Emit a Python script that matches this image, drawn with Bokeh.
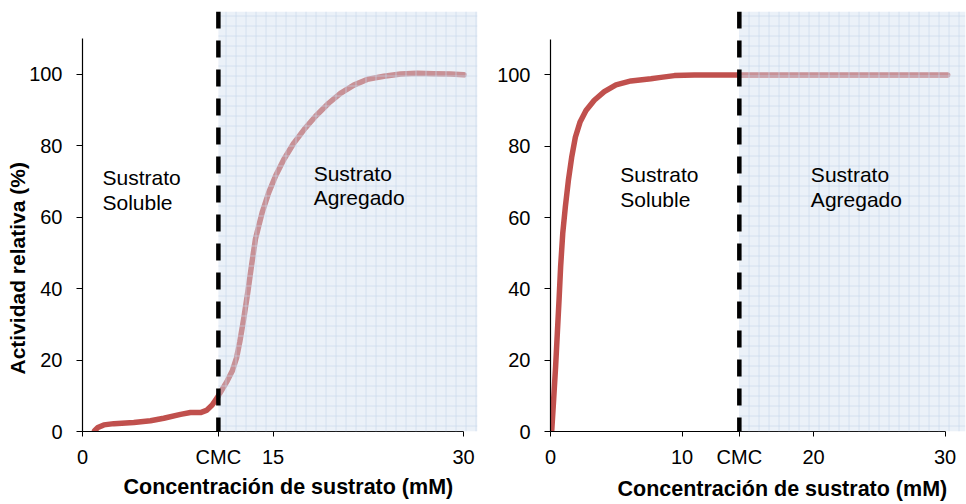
from bokeh.core.properties import value
from bokeh.embed import file_html
from bokeh.layouts import row
from bokeh.models import BoxAnnotation, ColumnDataSource, FixedTicker, Range1d, Span, Title
from bokeh.plotting import figure
from bokeh.resources import INLINE

# ---- data -------------------------------------------------------------
# left panel: activity vs substrate concentration (sigmoidal, CMC ~10.7 mM)
left_x = [0.95, 1.21, 1.68, 2.47, 4.04, 5.35, 6.40, 7.72, 8.50, 9.29, 9.76, 10.21,
          10.60, 11.0, 11.39, 11.79, 12.13, 12.39, 12.70, 13.02, 13.31, 13.62,
          14.15, 14.67, 15.20, 15.85, 16.64, 17.43, 18.35, 19.40, 20.31, 21.36,
          22.41, 23.73, 25.04, 26.35, 27.66, 28.98, 30.03]
left_y = [0.2, 1.1, 1.85, 2.2, 2.5, 3.0, 3.7, 4.8, 5.3, 5.3, 5.9, 7.4,
          9.4, 11.8, 14.1, 16.9, 20.6, 25.2, 31.7, 39.1, 46.5, 53.9,
          61.3, 66.9, 71.5, 76.1, 80.7, 84.4, 88.2, 91.9, 94.6, 96.9,
          98.5, 99.4, 100.0, 100.2, 100.1, 100.0, 99.8]
left_cmc = 10.7

# right panel: hyperbolic saturation, CMC ~14.4 mM
right_x = [0.09, 0.24, 0.39, 0.52, 0.65, 0.77, 0.93, 1.13, 1.36, 1.61, 1.89, 2.24,
           2.70, 3.33, 4.09, 4.98, 6.12, 7.64, 8.40, 9.42, 10.94, 14.36, 30.2]
right_y = [0.0, 9.0, 18.3, 27.6, 36.9, 46.2, 55.5, 63.0, 70.4, 76.9, 82.5, 86.7,
           90.0, 92.9, 95.3, 97.2, 98.3, 98.9, 99.3, 99.8, 100.0, 100.0, 100.0]
right_cmc = 14.36

left_xticks = [0, left_cmc, 15, 30]
right_xticks = [0, 10, right_cmc, 20, 30]
y_ticks = [0, 20, 40, 60, 80, 100]

x_title = "Concentración de sustrato (mM)"
y_title = "Actividad relativa (%)"
region_labels = [["Sustrato", "Soluble"], ["Sustrato", "Agregado"]]

FONT = "Liberation Sans"
RED = "#c0504d"


def make_panel(xs, ys, cmc, xticks, x_end, y_end, borders, x_bound_start,
               text_x, text_y):
    left_b, right_b, top_b, bottom_b = borders
    p = figure(width=483, height=504, output_backend="svg", toolbar_location=None,
               x_range=Range1d(0, x_end), y_range=Range1d(0, y_end),
               min_border_left=left_b, min_border_right=right_b,
               min_border_top=top_b, min_border_bottom=bottom_b)
    p.outline_line_color = None
    p.grid.visible = False
    p.background_fill_color = "white"
    p.border_fill_color = "white"

    for ax in (p.xaxis[0], p.yaxis[0]):
        ax.axis_line_color = "black"
        ax.axis_line_width = 1.2
        ax.major_tick_line_color = "black"
        ax.major_tick_in = 0
        ax.minor_tick_line_color = None
        ax.major_label_text_font = FONT
        ax.major_label_text_font_size = "20px"
        ax.major_label_text_color = "black"

    p.xaxis.ticker = FixedTicker(ticks=xticks)
    p.xaxis.major_label_overrides = {cmc: "CMC"}
    p.xaxis.major_tick_out = 5
    p.xaxis.major_label_standoff = 9
    p.xaxis.bounds = (x_bound_start, 30)

    p.yaxis.ticker = FixedTicker(ticks=y_ticks)
    p.yaxis.major_tick_out = 6
    p.yaxis.major_label_standoff = 14
    p.yaxis.bounds = (0, 110)

    src = ColumnDataSource(dict(x=xs, y=ys))
    p.line("x", "y", source=src, line_color=RED, line_width=5.5,
           line_join="round", line_cap="round")

    # aggregated-substrate region: translucent gridded overlay
    p.add_layout(BoxAnnotation(left=cmc, fill_color="#d2dff0", fill_alpha=0.45,
                               line_color=None, hatch_pattern="+",
                               hatch_color="#c3d3ea", hatch_alpha=0.6,
                               hatch_scale=10, hatch_weight=1))

    p.add_layout(Span(location=cmc, dimension="height", line_color="black",
                      line_width=4.5, line_dash="17 12", level="overlay"))

    tx, ty, tt = [], [], []
    for (lx, (y1, y2)), lines in zip(zip(text_x, text_y), region_labels):
        tx += [lx, lx]
        ty += [y1, y2]
        tt += lines
    p.text(x=tx, y=ty, text=tt, text_font=value(FONT), text_font_size="21px",
           text_baseline="alphabetic", text_align="left", text_color="black",
           level="overlay")
    return p


left = make_panel(left_x, left_y, left_cmc, left_xticks, 395 / 12.7, 423 / 3.6,
                  (82, 6, 11, 70), -0.45,
                  [1.57, 18.2], [(71.1, 64.2), (72.2, 65.5)])
right = make_panel(right_x, right_y, right_cmc, right_xticks, 415 / 13.15, 422 / 3.583,
                   (67, 1, 10, 72), -0.5,
                   [5.31, 19.8], [(72.1, 65.1), (72.1, 65.1)])

# axis titles, offset along their axes
left.add_layout(Title(text=x_title, align="left", offset=41, standoff=4,
                      text_font=FONT, text_font_size="21.5px",
                      text_font_style="bold", text_color="black"), "below")
right.add_layout(Title(text=x_title, align="left", offset=67, standoff=8,
                       text_font=FONT, text_font_size="21.5px",
                       text_font_style="bold", text_color="black"), "below")
left.add_layout(Title(text=y_title, align="left", offset=57, standoff=-4,
                      text_font=FONT, text_font_size="21px",
                      text_font_style="bold", text_color="black"), "left")

layout = row(left, right)
open("out.html", "w").write(file_html(layout, INLINE))
